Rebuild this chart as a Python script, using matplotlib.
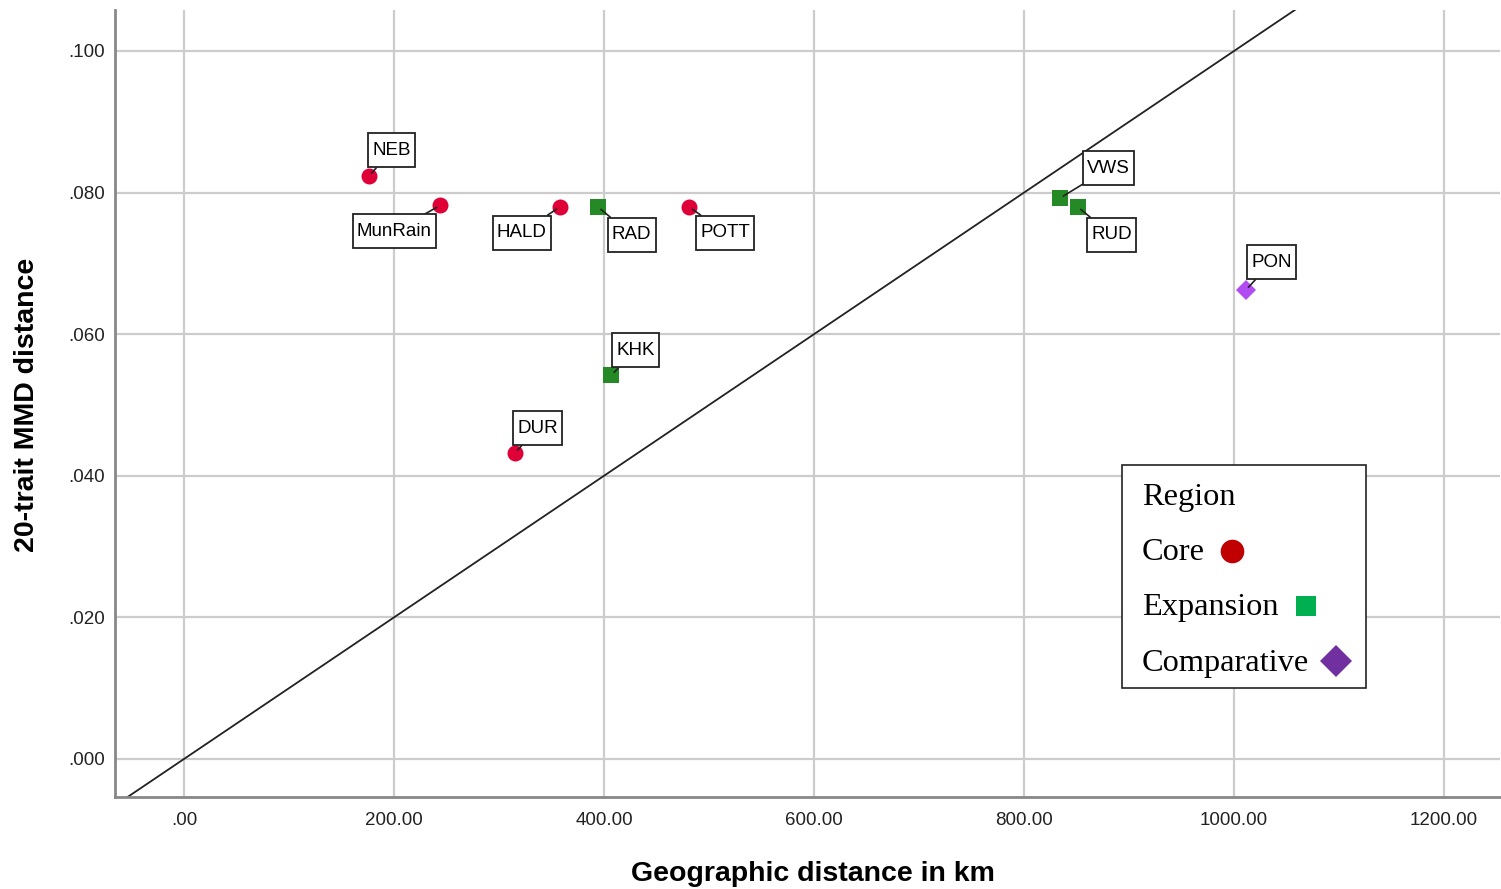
import matplotlib
matplotlib.use("Agg")
import matplotlib.pyplot as plt
from matplotlib.patches import Rectangle
from matplotlib.path import Path
from matplotlib.ticker import FuncFormatter

# Sample populations: geographic distance (km) vs 20-trait MMD distance
sites = ["NEB", "MunRain", "HALD", "RAD", "POTT", "VWS", "RUD", "PON", "KHK", "DUR"]
geo_km = [176, 244, 358, 394, 481, 834, 851, 1011, 407, 315]
mmd = [0.0823, 0.0782, 0.0780, 0.0780, 0.0780, 0.0792, 0.0780, 0.0662, 0.0542, 0.0432]
region = ["Core", "Core", "Core", "Expansion", "Core", "Expansion", "Expansion",
          "Comparative", "Expansion", "Core"]

region_order = ["Core", "Expansion", "Comparative"]
point_style = {
    "Core": dict(marker="o", color="#DE0037", ms=11.5),
    "Expansion": dict(marker="s", color="#258A25", ms=11),
    "Comparative": dict(marker="D", color="#B04CF2", ms=10),
}
legend_style = {
    "Core": dict(marker="o", color="#C00000", ms=17),
    "Expansion": dict(marker="s", color="#00B050", ms=14.5),
    "Comparative": dict(marker="D", color="#7030A0", ms=16),
}

# label offsets (pixels) of each data label box from its point
label_offsets = {
    "NEB": (23, 26), "MunRain": (-46, -26), "HALD": (-38, -26), "RAD": (34, -28),
    "POTT": (36, -26), "VWS": (49, 30), "RUD": (34, -28), "PON": (26, 28),
    "KHK": (24, 25), "DUR": (23, 25),
}


def label_box(x0, y0, width, height, mutation_size):
    """Square box with a taller vertical padding than horizontal."""
    px = 0.22 * mutation_size
    py = 0.45 * mutation_size
    x0, y0 = x0 - px, y0 - py
    x1, y1 = x0 + width + 2 * px, y0 + height + 2 * py
    return Path([(x0, y0), (x1, y0), (x1, y1), (x0, y1), (x0, y0)], closed=True)


fig = plt.figure(figsize=(15.01, 8.89), dpi=100)
ax = fig.add_axes([115 / 1501, 92 / 889, 1385 / 1501, 787 / 889])

ax.set_xlim(-65.7, 1253.3)
ax.set_ylim(-0.00537, 0.10579)

# reference line y = x / 10000
xl = ax.get_xlim()
ax.plot(xl, [xl[0] / 10000, xl[1] / 10000], color="#222222", lw=1.3, zorder=2)

ax.set_xticks([0, 200, 400, 600, 800, 1000, 1200])
ax.set_yticks([0.0, 0.02, 0.04, 0.06, 0.08, 0.10])
ax.xaxis.set_major_formatter(FuncFormatter(lambda v, p: f"{v:.2f}".lstrip("0") if abs(v) < 1 else f"{v:.2f}"))
ax.yaxis.set_major_formatter(FuncFormatter(lambda v, p: f"{v:.3f}".lstrip("0")))
ax.tick_params(axis="both", length=0, labelsize=13.5, colors="#222222")
ax.tick_params(axis="x", pad=11)
ax.tick_params(axis="y", pad=7)
for lab in ax.get_xticklabels() + ax.get_yticklabels():
    lab.set_family("Liberation Sans")

ax.grid(True, color="#CCCCCC", lw=1.6, zorder=0)
ax.set_axisbelow(True)
for s in ["top", "right"]:
    ax.spines[s].set_visible(False)
for s in ["left", "bottom"]:
    ax.spines[s].set_color("#888888")
    ax.spines[s].set_linewidth(2)

for name, x, y, r in zip(sites, geo_km, mmd, region):
    st = point_style[r]
    ax.plot(x, y, linestyle="none", marker=st["marker"], color=st["color"],
            markersize=st["ms"], markeredgewidth=0, zorder=4)
    dx, dy = label_offsets[name]
    ax.annotate(name, (x, y), xytext=(dx, dy), textcoords="offset pixels",
                ha="center", va="center", fontsize=13.5, family="Liberation Sans",
                bbox=dict(boxstyle=label_box, fc="white", ec="#222222", lw=1.3),
                arrowprops=dict(arrowstyle="-", color="#222222", lw=1.2,
                                shrinkA=0, shrinkB=3),
                zorder=5)

ax.set_xlabel("Geographic distance in km", fontsize=20.5, fontweight="bold",
              family="Liberation Sans", va="center")
ax.set_ylabel("20-trait MMD distance", fontsize=20.5, fontweight="bold",
              family="Liberation Sans", va="center")
ax.xaxis.set_label_coords((813 - 115) / 1385, -(874 - 797) / 787)
ax.yaxis.set_label_coords(-(115 - 27) / 1385, (797 - 405) / 787)

# legend box with marker placed after each entry's text
W, H = 1501, 889
fig.patches.append(Rectangle((1122 / W, 1 - 688 / H), 244 / W, 223 / H,
                             transform=fig.transFigure, fc="white", ec="#222222",
                             lw=1.2, zorder=10))
fig.text(1142 / W, 1 - 498 / H, "Region", family="Liberation Serif", fontsize=23.3,
         va="center", ha="left", zorder=11)
renderer = fig.canvas.get_renderer()
rows_y = [553, 608, 663]
for reg, yy in zip(region_order, rows_y):
    t = fig.text(1142 / W, 1 - yy / H, reg, family="Liberation Serif", fontsize=23.3,
                 va="center", ha="left", zorder=11)
    bb = t.get_window_extent(renderer)
    st = legend_style[reg]
    fig.add_artist(plt.Line2D([(bb.x1 + 27) / W], [1 - (yy - 2) / H], marker=st["marker"],
                              color=st["color"], markersize=st["ms"], markeredgewidth=0,
                              linestyle="none", transform=fig.transFigure, zorder=12))

fig.savefig("out.png", dpi=100, facecolor="white")
